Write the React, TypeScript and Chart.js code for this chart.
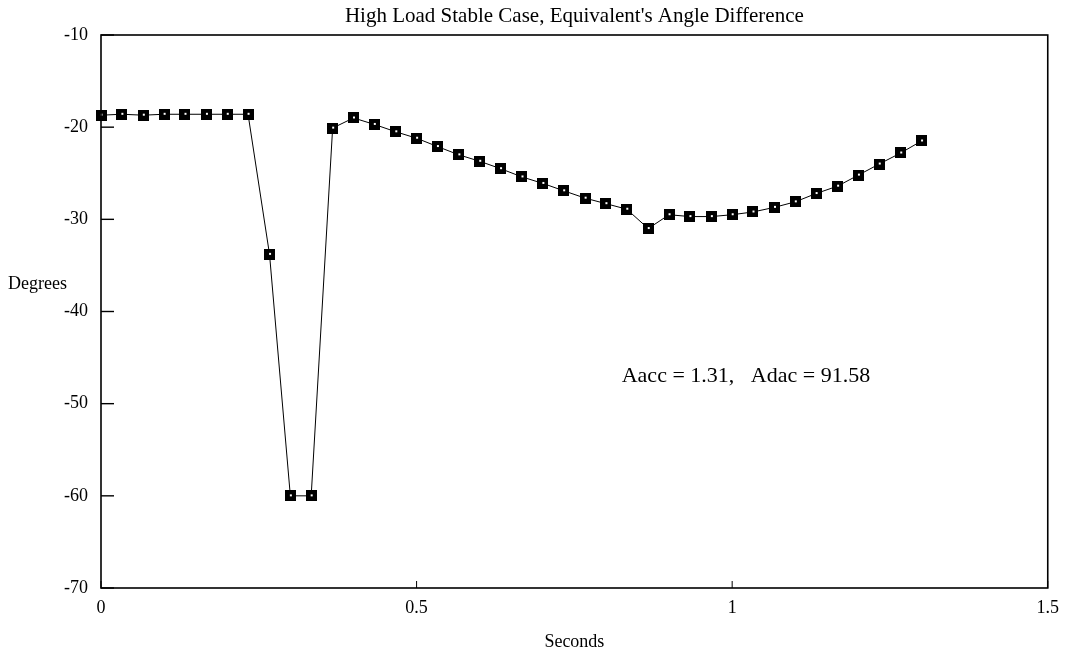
import React, { useEffect, useRef } from "react";
import { Chart, registerables } from "chart.js";

Chart.register(...registerables);

// ---- Data ----
const seconds = [
  0, 0.033, 0.067, 0.1, 0.133, 0.167, 0.2, 0.233, 0.267, 0.3,
  0.333, 0.367, 0.4, 0.433, 0.467, 0.5, 0.533, 0.567, 0.6, 0.633,
  0.667, 0.7, 0.733, 0.767, 0.8, 0.833, 0.867, 0.9, 0.933, 0.967,
  1.0, 1.033, 1.067, 1.1, 1.133, 1.167, 1.2, 1.233, 1.267, 1.3,
];
const degrees = [
  -18.7, -18.6, -18.7, -18.6, -18.6, -18.6, -18.6, -18.6, -33.8, -60,
  -60, -20.1, -19.0, -19.7, -20.5, -21.2, -22.1, -23.0, -23.7, -24.5,
  -25.4, -26.1, -26.9, -27.7, -28.3, -28.9, -31.0, -29.5, -29.7, -29.7,
  -29.5, -29.2, -28.7, -28.1, -27.2, -26.4, -25.2, -24.0, -22.8, -21.5,
];
const xTicks = [0, 0.5, 1, 1.5];
const yTicks = [-70, -60, -50, -40, -30, -20, -10];

const titleText = "High Load Stable Case, Equivalent's Angle Difference";
const xTitle = "Seconds";
const yTitle = "Degrees";
const noteText = "Aacc = 1.31,   Adac = 91.58";
const noteX = 0.825;
const noteY = -47;

const SERIF = '"Liberation Serif", "Times New Roman", serif';

function makeMarker(): HTMLCanvasElement {
  const c = document.createElement("canvas");
  c.width = 11;
  c.height = 11;
  const g = c.getContext("2d")!;
  g.fillStyle = "#000";
  g.fillRect(0, 0, 11, 11);
  g.fillStyle = "#fff";
  g.fillRect(5, 4, 2, 2);
  return c;
}

const decoPlugin = {
  id: "deco",
  afterDraw(chart: any) {
    const { ctx, chartArea: ca, scales } = chart;
    ctx.save();
    ctx.strokeStyle = "#000";
    ctx.lineWidth = 1.6;
    ctx.strokeRect(ca.left, ca.top, ca.right - ca.left, ca.bottom - ca.top);
    ctx.lineWidth = 1.4;
    for (const v of yTicks) {
      const y = scales.y.getPixelForValue(v);
      ctx.beginPath();
      ctx.moveTo(ca.left, y);
      ctx.lineTo(ca.left + 13, y);
      ctx.stroke();
    }
    ctx.lineWidth = 1;
    for (const v of xTicks) {
      const x = scales.x.getPixelForValue(v);
      ctx.beginPath();
      ctx.moveTo(x, ca.bottom);
      ctx.lineTo(x, ca.bottom - 7);
      ctx.stroke();
    }
    ctx.fillStyle = "#000";
    ctx.textBaseline = "middle";
    const cx = (ca.left + ca.right) / 2;
    ctx.font = `21px ${SERIF}`;
    ctx.textAlign = "center";
    ctx.fillText(titleText, cx, 16);
    ctx.font = `18px ${SERIF}`;
    ctx.fillText(xTitle, cx, 642);
    ctx.textAlign = "left";
    ctx.fillText(yTitle, 8, 284);
    ctx.font = `22px ${SERIF}`;
    ctx.fillText(
      noteText,
      scales.x.getPixelForValue(noteX),
      scales.y.getPixelForValue(noteY)
    );
    ctx.restore();
  },
};

export default function App() {
  const ref = useRef<HTMLCanvasElement | null>(null);

  useEffect(() => {
    if (!ref.current) return;
    const marker = makeMarker();
    const chart = new Chart(ref.current, {
      type: "line",
      data: {
        datasets: [
          {
            data: seconds.map((x, i) => ({ x, y: degrees[i] })),
            borderColor: "#000",
            borderWidth: 1,
            pointStyle: marker as any,
            pointRadius: 5,
            backgroundColor: "#000",
            tension: 0,
            clip: false as any,
          },
        ],
      },
      options: {
        animation: false,
        responsive: false,
        events: [],
        layout: { padding: { top: 35, right: 15, left: 0, bottom: 0 } },
        plugins: {
          legend: { display: false },
          title: { display: false },
          tooltip: { enabled: false },
        },
        scales: {
          x: {
            type: "linear",
            min: 0,
            max: 1.5,
            afterFit: (s: any) => {
              s.height = 68;
            },
            afterBuildTicks: (s: any) => {
              s.ticks = xTicks.map((v) => ({ value: v }));
            },
            grid: { display: false, drawTicks: false },
            border: { display: false },
            ticks: {
              color: "#000",
              padding: 9,
              maxRotation: 0,
              font: { family: SERIF, size: 18 },
              callback: (v: any) => String(v),
            },
          },
          y: {
            type: "linear",
            min: -70,
            max: -10,
            afterFit: (s: any) => {
              s.width = 101;
            },
            afterBuildTicks: (s: any) => {
              s.ticks = yTicks.map((v) => ({ value: v }));
            },
            grid: { display: false, drawTicks: false },
            border: { display: false },
            ticks: {
              color: "#000",
              padding: 13,
              font: { family: SERIF, size: 18 },
              callback: (v: any) => String(v),
            },
          },
        },
      },
      plugins: [decoPlugin],
    });
    return () => chart.destroy();
  }, []);

  return (
    <div
      style={{
        position: "absolute",
        left: 0,
        top: 0,
        width: 1068,
        height: 656,
        background: "#fff",
      }}
    >
      <canvas ref={ref} width={1068} height={656} />
    </div>
  );
}
